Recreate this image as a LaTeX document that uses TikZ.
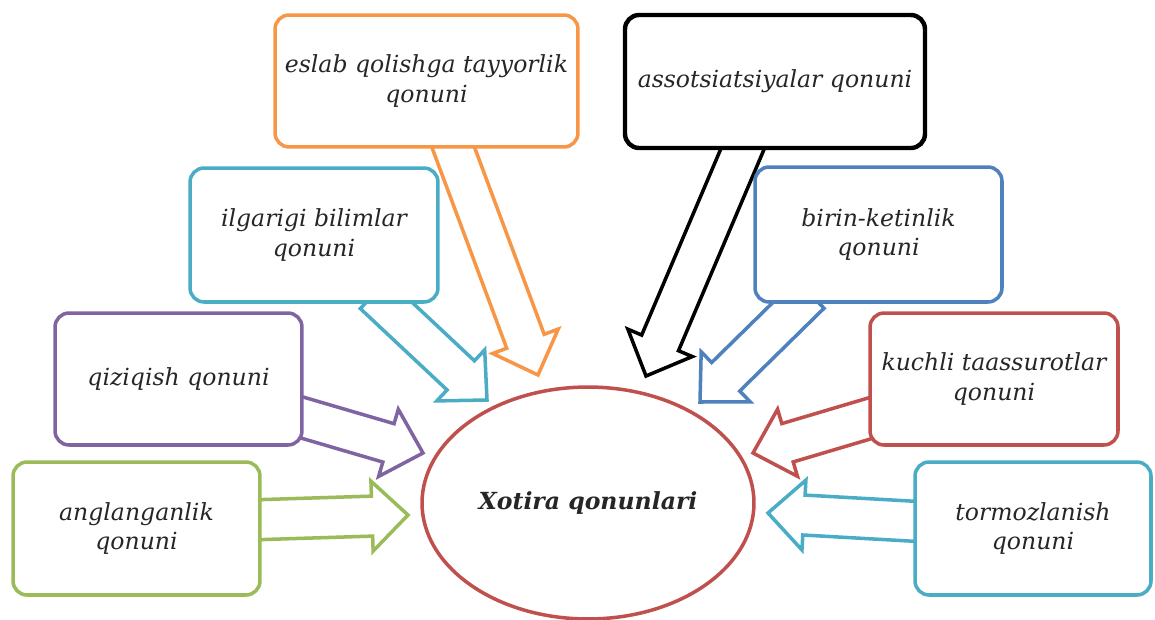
\documentclass[tikz,border=0pt]{standalone}
\usepackage{fontspec}
\setmainfont{DejaVu Serif}
\usetikzlibrary{calc,backgrounds,shapes.geometric}
\definecolor{laworange}{RGB}{247,150,70}
\definecolor{lawteal}{RGB}{75,172,198}
\definecolor{lawblue}{RGB}{79,129,189}
\definecolor{lawred}{RGB}{192,80,77}
\definecolor{lawpurple}{RGB}{128,100,162}
\definecolor{lawgreen}{RGB}{155,187,89}
\newcommand{\lawfont}{\fontsize{13.4}{17}\selectfont}

% hollow block arrow: colour, tail, tip
\newcommand{\blockarrow}[3]{%
  \coordinate (hb) at ($(#3)!0.72cm!(#2)$);
  \draw[#1, line width=2pt, fill=white]
    ($(#2)!0.4cm!90:(#3)$) -- ($(hb)!0.4cm!90:(#3)$) -- ($(hb)!0.7cm!90:(#3)$) -- (#3)
    -- ($(hb)!0.7cm!-90:(#3)$) -- ($(hb)!0.4cm!-90:(#3)$) -- ($(#2)!0.4cm!-90:(#3)$) -- cycle;
}

\tikzset{
  lawbox/.style={draw=#1, line width=2pt, rounded corners=8pt, fill=white,
    align=center, inner sep=2pt, text=black!85, font=\itshape\lawfont},
}

\begin{document}
\begin{tikzpicture}[x=0.02cm, y=-0.02cm]
    \useasboundingbox (0,0) rectangle (1155,619);

    % the laws
    \node[lawbox=laworange, minimum width=6.06cm, minimum height=2.64cm] (esl) at (426.5,81) {eslab qolishga tayyorlik\\qonuni};
    \node[lawbox=black, line width=2.5pt, minimum width=6cm, minimum height=2.66cm] (assoc) at (775,81.5) {assotsiatsiyalar qonuni};
    \node[lawbox=lawteal, minimum width=4.96cm, minimum height=2.68cm] (ilg) at (314,235) {ilgarigi bilimlar\\qonuni};
    \node[lawbox=lawblue, minimum width=4.94cm, minimum height=2.7cm] (birin) at (878.5,234.5) {birin-ketinlik\\qonuni};
    \node[lawbox=lawpurple, minimum width=4.94cm, minimum height=2.64cm] (qiz) at (178.5,379) {qiziqish qonuni};
    \node[lawbox=lawred, minimum width=4.96cm, minimum height=2.64cm] (kuch) at (994,379) {kuchli taassurotlar\\qonuni};
    \node[lawbox=lawgreen, minimum width=4.94cm, minimum height=2.66cm] (angl) at (136.5,528.5) {anglanganlik\\qonuni};
    \node[lawbox=lawteal, minimum width=4.72cm, minimum height=2.66cm] (torm) at (1033,528.5) {tormozlanish\\qonuni};

    % centre
    \node[ellipse, draw=lawred, line width=2pt, fill=white, minimum width=6.64cm, minimum height=4.64cm,
      text=black!85, font=\bfseries\itshape\lawfont] (xot) at (588,503) {Xotira qonunlari};

    % arrow ends
    \coordinate (eslT) at (449,136);   \coordinate (eslH) at (538,375);
    \coordinate (assocT) at (748,136); \coordinate (assocH) at (646,376);
    \coordinate (ilgT) at (374,294);   \coordinate (ilgH) at (487,400);
    \coordinate (birinT) at (810,294); \coordinate (birinH) at (700,402);
    \coordinate (qizT) at (290,414);   \coordinate (qizH) at (423,453);
    \coordinate (kuchT) at (881,415);  \coordinate (kuchH) at (753,453);
    \coordinate (anglT) at (248,520);  \coordinate (anglH) at (408,515);
    \coordinate (tormT) at (927,522);  \coordinate (tormH) at (768,513);

    \begin{pgfonlayer}{background}
        \blockarrow{laworange}{eslT}{eslH}
        \blockarrow{black}{assocT}{assocH}
        \blockarrow{lawteal}{ilgT}{ilgH}
        \blockarrow{lawblue}{birinT}{birinH}
        \blockarrow{lawpurple}{qizT}{qizH}
        \blockarrow{lawred}{kuchT}{kuchH}
        \blockarrow{lawgreen}{anglT}{anglH}
        \blockarrow{lawteal}{tormT}{tormH}
    \end{pgfonlayer}
\end{tikzpicture}
\end{document}
